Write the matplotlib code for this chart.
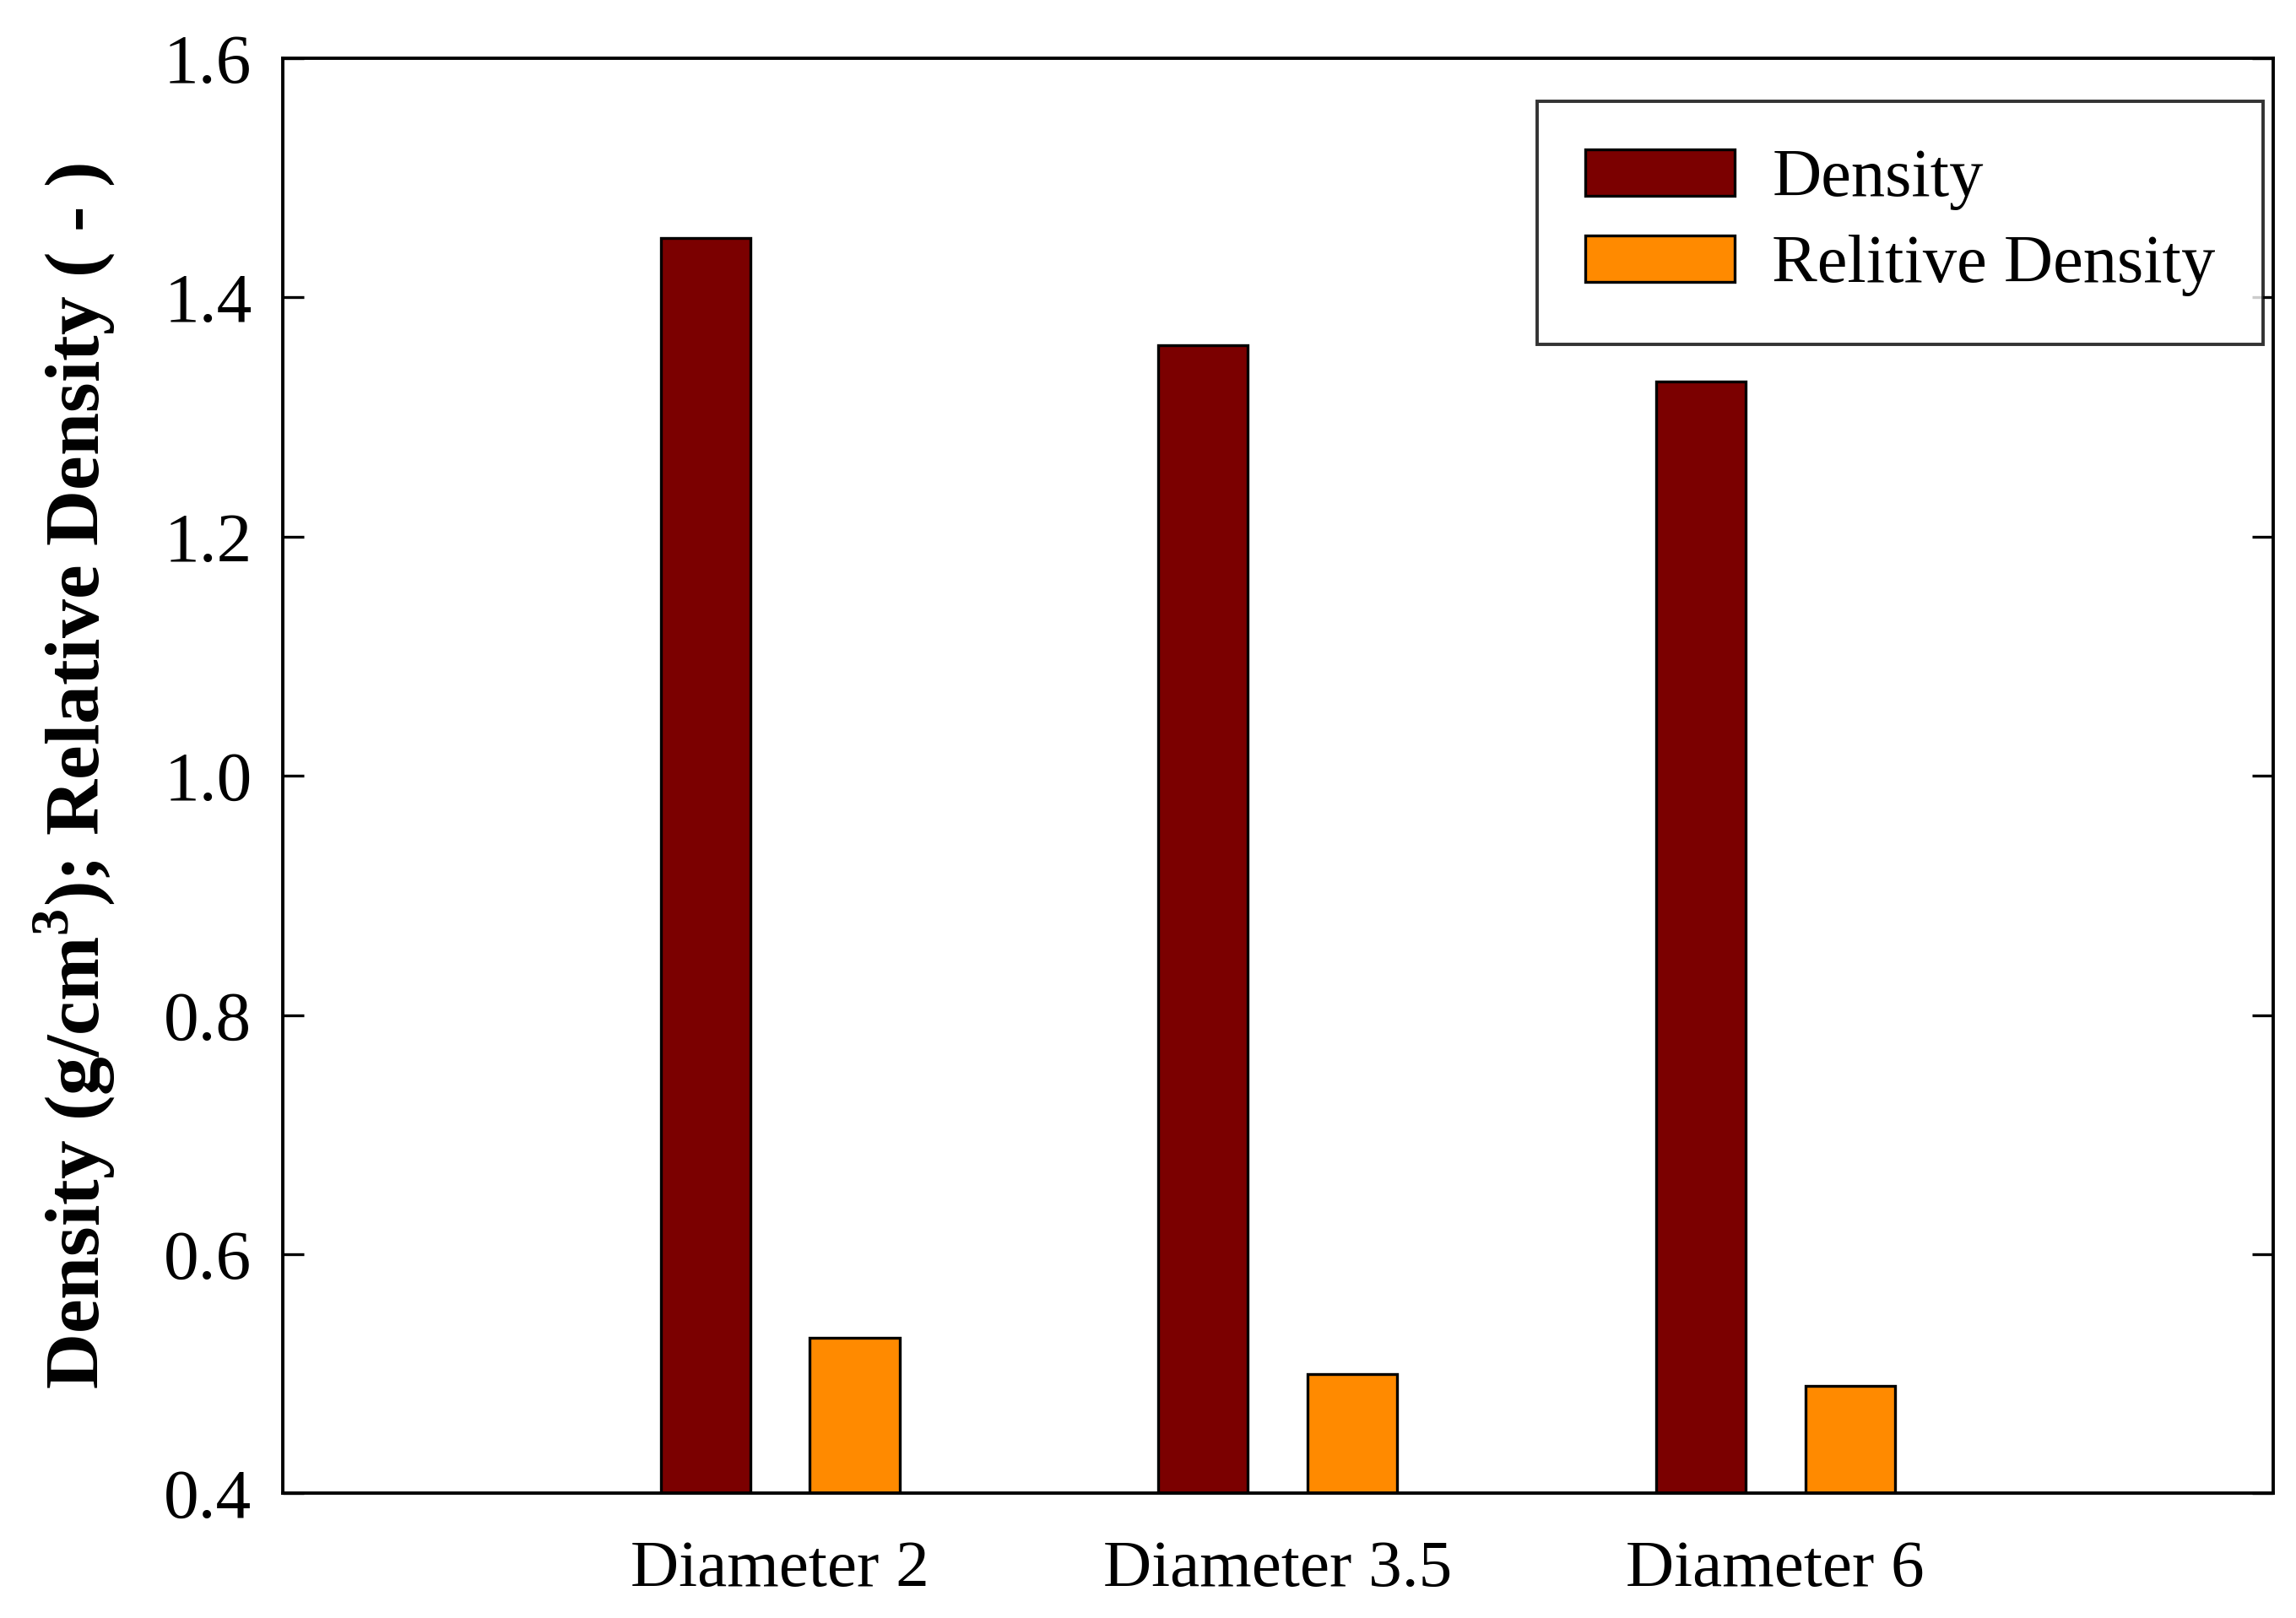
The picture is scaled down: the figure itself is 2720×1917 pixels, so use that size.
import matplotlib
matplotlib.use("Agg")
import matplotlib.pyplot as plt
import numpy as np

categories = ["Diameter 2", "Diameter 3.5", "Diameter 6"]
density = [1.45, 1.36, 1.33]
relative_density = [0.53, 0.50, 0.49]
yticks = [0.4, 0.6, 0.8, 1.0, 1.2, 1.4, 1.6]

plt.rcParams['font.family'] = ['Liberation Serif', 'DejaVu Serif']
plt.rcParams['mathtext.fontset'] = 'custom'
plt.rcParams['mathtext.rm'] = 'Liberation Serif'
plt.rcParams['mathtext.bf'] = 'Liberation Serif:bold'

fig = plt.figure(figsize=(13.6, 9.585), dpi=200)
ax = fig.add_axes([0.123, 0.077, 0.867, 0.887])

x = np.arange(1, len(categories) + 1)
w = 0.18
off = 0.15
ax.bar(x - off, density, width=w, bottom=0, color='#7B0000', edgecolor='black', linewidth=1.2, label='Density')
ax.bar(x + off, relative_density, width=w, bottom=0, color='#FF8A00', edgecolor='black', linewidth=1.2, label='Relitive Density')

ax.set_xlim(0, 4)
ax.set_ylim(0.4, 1.6)
ax.set_yticks(yticks)
ax.set_yticklabels([f"{v:.1f}" for v in yticks])
ax.set_xticks(x)
ax.set_xticklabels(categories)

ax.tick_params(axis='y', direction='in', length=9, width=1.2, labelsize=30, right=True, pad=13)
ax.tick_params(axis='x', length=0, labelsize=28.5, pad=20)
for s in ax.spines.values():
    s.set_linewidth(1.4)

ax.set_ylabel(r'Density (g/cm$^{\mathbf{3}}$); Relative Density ( - )', fontsize=33, fontweight='bold')
ax.yaxis.set_label_coords(-0.083, 0.5)

leg = ax.legend(loc='upper right', bbox_to_anchor=(0.995, 0.970), fontsize=29, frameon=True,
                fancybox=False, edgecolor='black', handlelength=2.2, handleheight=0.68,
                handletextpad=0.55, labelspacing=0.36, borderpad=0.7, borderaxespad=0)
leg.get_frame().set_linewidth(1.4)

fig.savefig('out.png', dpi=200)
